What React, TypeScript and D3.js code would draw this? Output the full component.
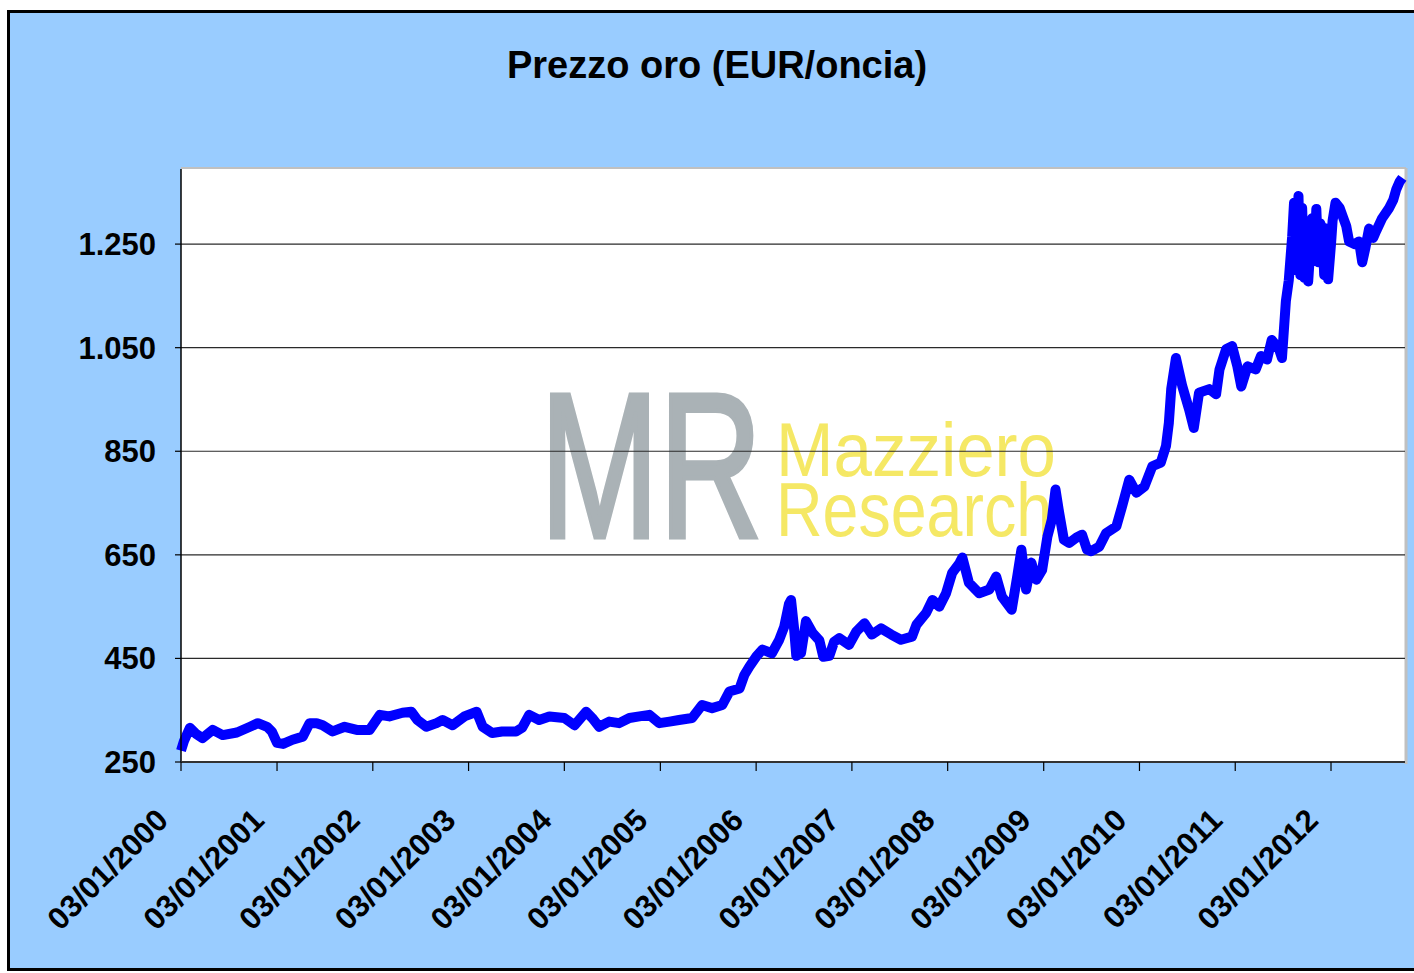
import React from "react";
import * as d3 from "d3";

const TITLE = "Prezzo oro (EUR/oncia)";
const Y_TICKS = [250, 450, 650, 850, 1050, 1250];
const X_TICKS = [
  "2000-01-03", "2001-01-03", "2002-01-03", "2003-01-03", "2004-01-03", "2005-01-03",
  "2006-01-03", "2007-01-03", "2008-01-03", "2009-01-03", "2010-01-03", "2011-01-03", "2012-01-03",
];
const X_DOMAIN = ["2000-01-03", "2012-10-11"];
const Y_DOMAIN = [250, 1395];

const DATES = [
  "2000-01-03", "2000-01-14", "2000-02-06", "2000-02-28", "2000-03-25", "2000-05-03", "2000-06-10", "2000-08-03",
  "2000-09-22", "2000-10-22", "2000-11-26", "2000-12-14", "2001-01-03", "2001-01-26", "2001-03-03", "2001-04-11",
  "2001-05-07", "2001-06-03", "2001-06-26", "2001-08-03", "2001-09-18", "2001-11-03", "2001-12-22", "2002-01-30",
  "2002-03-07", "2002-04-26", "2002-05-30", "2002-06-22", "2002-07-26", "2002-09-03", "2002-09-26", "2002-11-03",
  "2002-12-18", "2003-02-03", "2003-02-26", "2003-04-03", "2003-05-11", "2003-07-03", "2003-07-26", "2003-08-22",
  "2003-09-29", "2003-11-07", "2004-01-03", "2004-02-11", "2004-03-26", "2004-04-18", "2004-05-15", "2004-06-22",
  "2004-07-30", "2004-09-07", "2004-10-15", "2004-11-22", "2004-12-30", "2005-02-07", "2005-03-15", "2005-05-04",
  "2005-06-11", "2005-07-19", "2005-08-27", "2005-09-23", "2005-11-01", "2005-11-19", "2005-12-08", "2006-01-04",
  "2006-01-27", "2006-03-04", "2006-04-01", "2006-04-20", "2006-05-08", "2006-05-16", "2006-05-27", "2006-06-05",
  "2006-06-23", "2006-07-12", "2006-08-05", "2006-09-01", "2006-09-16", "2006-10-09", "2006-10-27", "2006-11-16",
  "2006-12-23", "2007-01-20", "2007-02-20", "2007-03-20", "2007-04-24", "2007-06-02", "2007-07-09", "2007-08-20",
  "2007-09-06", "2007-10-13", "2007-11-06", "2007-12-02", "2007-12-28", "2008-01-20", "2008-02-17", "2008-02-28",
  "2008-03-24", "2008-05-02", "2008-06-10", "2008-07-06", "2008-07-28", "2008-09-03", "2008-09-24", "2008-10-10",
  "2008-10-28", "2008-11-17", "2008-12-06", "2008-12-28", "2009-01-17", "2009-02-03", "2009-02-17", "2009-03-03",
  "2009-03-21", "2009-04-10", "2009-05-07", "2009-05-29", "2009-06-17", "2009-07-03", "2009-08-03", "2009-08-29",
  "2009-10-07", "2009-10-29", "2009-11-25", "2009-12-22", "2010-01-22", "2010-02-21", "2010-03-25", "2010-04-14",
  "2010-04-25", "2010-05-04", "2010-05-22", "2010-06-15", "2010-07-11", "2010-07-29", "2010-08-18", "2010-09-26",
  "2010-10-22", "2010-11-04", "2010-11-29", "2010-12-22", "2011-01-11", "2011-01-26", "2011-02-19", "2011-03-22",
  "2011-04-11", "2011-05-04", "2011-05-22", "2011-06-19", "2011-06-30", "2011-07-15", "2011-07-26", "2011-08-08",
  "2011-08-15", "2011-08-22", "2011-09-01", "2011-09-08", "2011-09-15", "2011-09-23", "2011-10-01", "2011-10-08",
  "2011-10-16", "2011-10-23", "2011-11-01", "2011-11-08", "2011-11-16", "2011-11-23", "2011-12-01", "2011-12-08",
  "2011-12-16", "2011-12-23", "2012-01-03", "2012-01-09", "2012-01-20", "2012-02-05", "2012-02-19", "2012-03-01",
  "2012-03-12", "2012-04-01", "2012-04-19", "2012-05-01", "2012-05-12", "2012-05-27", "2012-06-12", "2012-06-23",
  "2012-07-16", "2012-08-12", "2012-08-27", "2012-09-08", "2012-09-20", "2012-10-01",
];

const PRICES = [
  272, 290, 316, 305, 296, 312, 302, 307,
  318, 325, 318, 309, 287, 285, 293, 299,
  325, 325, 321, 309, 318, 312, 312, 341,
  338, 345, 347, 331, 318, 325, 331, 321,
  338, 347, 318, 306, 309, 309, 316, 341,
  331, 338, 335, 321, 347, 335, 318, 328,
  325, 335, 338, 341, 325, 328, 331, 335,
  360, 354, 360, 386, 392, 418, 434, 454,
  467, 460, 486, 511, 555, 563, 511, 455,
  460, 522, 500, 485, 453, 455, 482, 489,
  476, 502, 518, 496, 508, 496, 486, 492,
  515, 538, 563, 550, 576, 615, 634, 645,
  596, 576, 583, 608, 569, 544, 608, 660,
  583, 635, 602, 621, 685, 718, 776, 731,
  679, 673, 683, 689, 660, 657, 666, 692,
  705, 744, 795, 770, 782, 821, 828, 860,
  905, 970, 1030, 976, 931, 895, 963, 970,
  960, 1008, 1047, 1053, 1014, 975, 1014, 1008,
  1034, 1027, 1065, 1047, 1030, 1140, 1180, 1265,
  1330, 1200, 1343, 1190, 1320, 1185, 1250, 1178,
  1240, 1300, 1220, 1318, 1215, 1290, 1280, 1190,
  1280, 1182, 1250, 1295, 1330, 1320, 1300, 1285,
  1255, 1250, 1255, 1215, 1240, 1280, 1262, 1275,
  1300, 1320, 1335, 1356, 1370, 1378,
];

const W = 1414;
const H = 973;
const PLOT = { left: 181, right: 1405, top: 169, bottom: 762 };

const fmt = (v: number) => d3.format(",")(v).replace(/,/g, ".");
const parse = d3.timeParse("%Y-%m-%d");

export default function App() {
  const x = d3
    .scaleTime()
    .domain(X_DOMAIN.map((d) => parse(d) as Date))
    .range([PLOT.left, PLOT.right]);
  const y = d3.scaleLinear().domain(Y_DOMAIN).range([PLOT.bottom, PLOT.top]);

  const data = DATES.map((d, i) => ({ date: parse(d) as Date, v: PRICES[i] }));
  const line = d3
    .line<{ date: Date; v: number }>()
    .x((d) => x(d.date))
    .y((d) => y(d.v));

  const font = "'Liberation Sans', Arial, sans-serif";

  return (
    <svg
      width={W}
      height={H}
      style={{ position: "absolute", left: 0, top: 0 }}
      fontFamily={font}
    >
      <rect x={0} y={0} width={W} height={H} fill="#ffffff" />
      <rect x={8.5} y={11.5} width={W + 10} height={958} fill="#99ccff" stroke="#000" strokeWidth={3} />

      <text x={717} y={78} textAnchor="middle" fontSize={38} fontWeight="bold" fill="#000">
        {TITLE}
      </text>

      {/* plot area */}
      <rect x={PLOT.left} y={PLOT.top} width={PLOT.right - PLOT.left} height={PLOT.bottom - PLOT.top} fill="#fff" />
      <line x1={PLOT.left} x2={PLOT.right + 1} y1={PLOT.top - 1} y2={PLOT.top - 1} stroke="#c0c0c0" strokeWidth={2} />
      <line x1={PLOT.right + 1} x2={PLOT.right + 1} y1={PLOT.top - 1} y2={PLOT.bottom + 2} stroke="#c0c0c0" strokeWidth={3} />

      {/* watermark (logo) */}
      <text>
        <tspan
          x={540}
          y={537}
          fontSize={206}
          textLength={222}
          lengthAdjust="spacingAndGlyphs"
          fill="#aab2b6"
          stroke="#aab2b6"
          strokeWidth={5}
        >
          MR
        </tspan>
        <tspan x={776} y={476} fontSize={76} textLength={280} lengthAdjust="spacingAndGlyphs" fill="#f5e865">
          Mazziero
        </tspan>
        <tspan x={776} y={536} fontSize={76} textLength={276} lengthAdjust="spacingAndGlyphs" fill="#f5e865">
          Research
        </tspan>
      </text>

      {/* gridlines */}
      {Y_TICKS.filter((t) => t !== 250).map((t) => (
        <line key={t} x1={PLOT.left} x2={PLOT.right} y1={y(t)} y2={y(t)} stroke="#2a2a2a" strokeWidth={1.2} />
      ))}

      {/* series */}
      <path d={line(data) || ""} fill="none" stroke="#0000ff" strokeWidth={10} strokeLinejoin="round" strokeLinecap="butt" />

      {/* axes */}
      <line x1={PLOT.left} x2={PLOT.left} y1={PLOT.top} y2={PLOT.bottom} stroke="#000" strokeWidth={1.5} />
      <line x1={PLOT.left} x2={PLOT.right} y1={PLOT.bottom} y2={PLOT.bottom} stroke="#333" strokeWidth={2} />
      {Y_TICKS.map((t) => (
        <g key={t}>
          <line x1={PLOT.left - 6} x2={PLOT.left} y1={y(t)} y2={y(t)} stroke="#000" strokeWidth={1.2} />
          <text x={156} y={y(t) + 11} textAnchor="end" fontSize={31} fontWeight="bold" fill="#000">
            {fmt(t)}
          </text>
        </g>
      ))}
      {X_TICKS.map((t) => {
        const d = parse(t) as Date;
        const px = x(d);
        return (
          <g key={t}>
            <line x1={px} x2={px} y1={PLOT.bottom} y2={PLOT.bottom + 9} stroke="#000" strokeWidth={1.2} />
            <text
              transform={`translate(${px - 11},822) rotate(-45)`}
              textAnchor="end"
              fontSize={31}
              fontWeight="bold"
              fill="#000"
            >
              {d3.timeFormat("%d/%m/%Y")(d)}
            </text>
          </g>
        );
      })}
    </svg>
  );
}
